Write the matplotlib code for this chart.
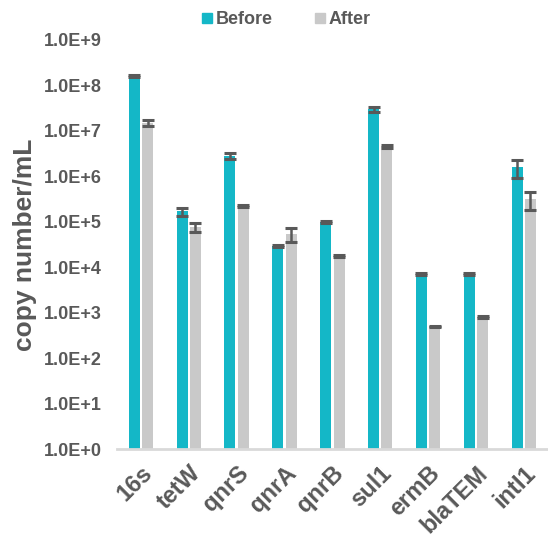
import matplotlib.pyplot as plt
from matplotlib.lines import Line2D
import numpy as np

plt.rcParams['font.family'] = ['Liberation Sans', 'DejaVu Sans']
plt.rcParams['font.weight'] = 'bold'

genes = ['16s', 'tetW', 'qnrS', 'qnrA', 'qnrB', 'sul1', 'ermB', 'blaTEM', 'intI1']
before = [1.6e8, 1.7e5, 2.8e6, 3.0e4, 1.0e5, 3.0e7, 7.0e3, 7.0e3, 1.6e6]
before_err = [1.0e7, 3.5e4, 4.0e5, 1.5e3, 5.0e3, 4.0e6, 3.0e2, 3.0e2, 7.0e5]
after = [1.5e7, 7.6e4, 2.2e5, 5.5e4, 1.8e4, 4.6e6, 5.0e2, 8.0e2, 3.2e5]
after_err = [2.0e6, 1.6e4, 1.0e4, 1.9e4, 8.0e2, 3.0e5, 2.0e1, 3.0e1, 1.4e5]

teal = '#14B7C7'
grey = '#C9C9C9'
ink = '#595959'

fig = plt.figure(figsize=(5.48, 5.36), dpi=100)
ax = fig.add_axes([0.2135, 0.1623, 0.786, 0.7631])

x = np.arange(len(genes))
w = 0.23
off = 0.14
ekw = dict(ecolor=ink, elinewidth=1.8, capsize=4.3, capthick=2.2)
ax.bar(x - off, before, w, bottom=1, color=teal, yerr=before_err, error_kw=ekw)
ax.bar(x + off, after, w, bottom=1, color=grey, yerr=after_err, error_kw=ekw)

ax.set_yscale('log')
ax.set_ylim(1, 1e9)
ax.set_xlim(-0.5, len(genes) - 0.5)
ax.minorticks_off()
ax.set_yticks([10.0 ** k for k in range(10)])
ax.set_yticklabels(['1.0E+%d' % k for k in range(10)])
ax.set_xticks(x)
ax.set_xticklabels(genes, rotation=45, ha='right', rotation_mode='anchor')

ax.tick_params(axis='y', length=0, pad=11, labelsize=13, labelcolor=ink)
ax.tick_params(axis='x', length=0, pad=9, labelsize=17, labelcolor=ink)
for lab in ax.get_xticklabels() + ax.get_yticklabels():
    lab.set_fontweight('bold')

for s in ['top', 'right', 'left']:
    ax.spines[s].set_visible(False)
ax.spines['bottom'].set_color('#D9D9D9')
ax.spines['bottom'].set_linewidth(2)

ax.set_ylabel('copy number/mL', fontsize=19, fontweight='bold', color=ink, labelpad=5)

handles = [Line2D([], [], ls='none', marker='s', markersize=7, color=teal),
           Line2D([], [], ls='none', marker='s', markersize=7, color=grey)]
fig.legend(handles, ['Before', 'After'], loc='upper center', bbox_to_anchor=(0.52, 1.01),
           ncol=2, frameon=False, handletextpad=0.1, columnspacing=2.2, handlelength=0.8,
           prop={'size': 13, 'weight': 'bold'}, labelcolor=ink)

fig.savefig('out.png', dpi=100)
